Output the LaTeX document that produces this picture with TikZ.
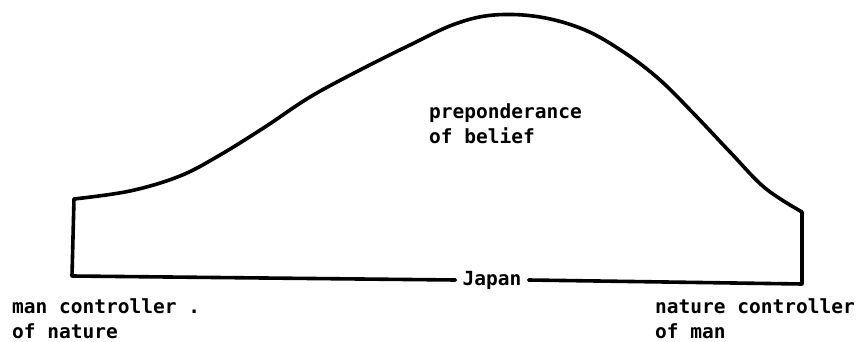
\documentclass[tikz,border=0pt]{standalone}
\usepackage{fontspec}
\setmonofont{DejaVu Sans Mono}
\usepackage{tikz}
\usetikzlibrary{positioning, calc}

\begin{document}
\begin{tikzpicture}[x=1pt, y=-1pt,
    label/.style={font=\fontsize{19.5}{25}\selectfont\ttfamily\bfseries, inner sep=0pt, align=left, anchor=base west},
    curve/.style={line width=3.6pt, line join=round, line cap=round}]
    \useasboundingbox (0,0) rectangle (857,342);
    \coordinate (bl) at (72,276);
    \coordinate (tl) at (74,199);
    \coordinate (tr) at (802,212);
    \coordinate (br) at (802,284);
    \node[label, anchor=center, inner xsep=7pt] (japan) at (492,280) {Japan};
    \draw[curve] (japan.west) -- (bl) -- (tl);
    \draw[curve] plot[smooth, tension=0.6] coordinates {(74,199) (130,191) (180,176) (220,155) (265,127) (310,97) (360,70) (410,45) (455,24) (494,15) (540,17) (585,30) (625,53) (660,80) (695,115) (730,152) (765,188) (802,212)};
    \draw[curve] (tr) -- (br) -- (japan.east);
    \node[label] (belief) at (429,144) {preponderance\\of belief};
    \node[label] (mancontrol) at (12,338) {man controller .\\of nature};
    \node[label] (naturecontrol) at (655,338) {nature controller\\of man};
\end{tikzpicture}
\end{document}
